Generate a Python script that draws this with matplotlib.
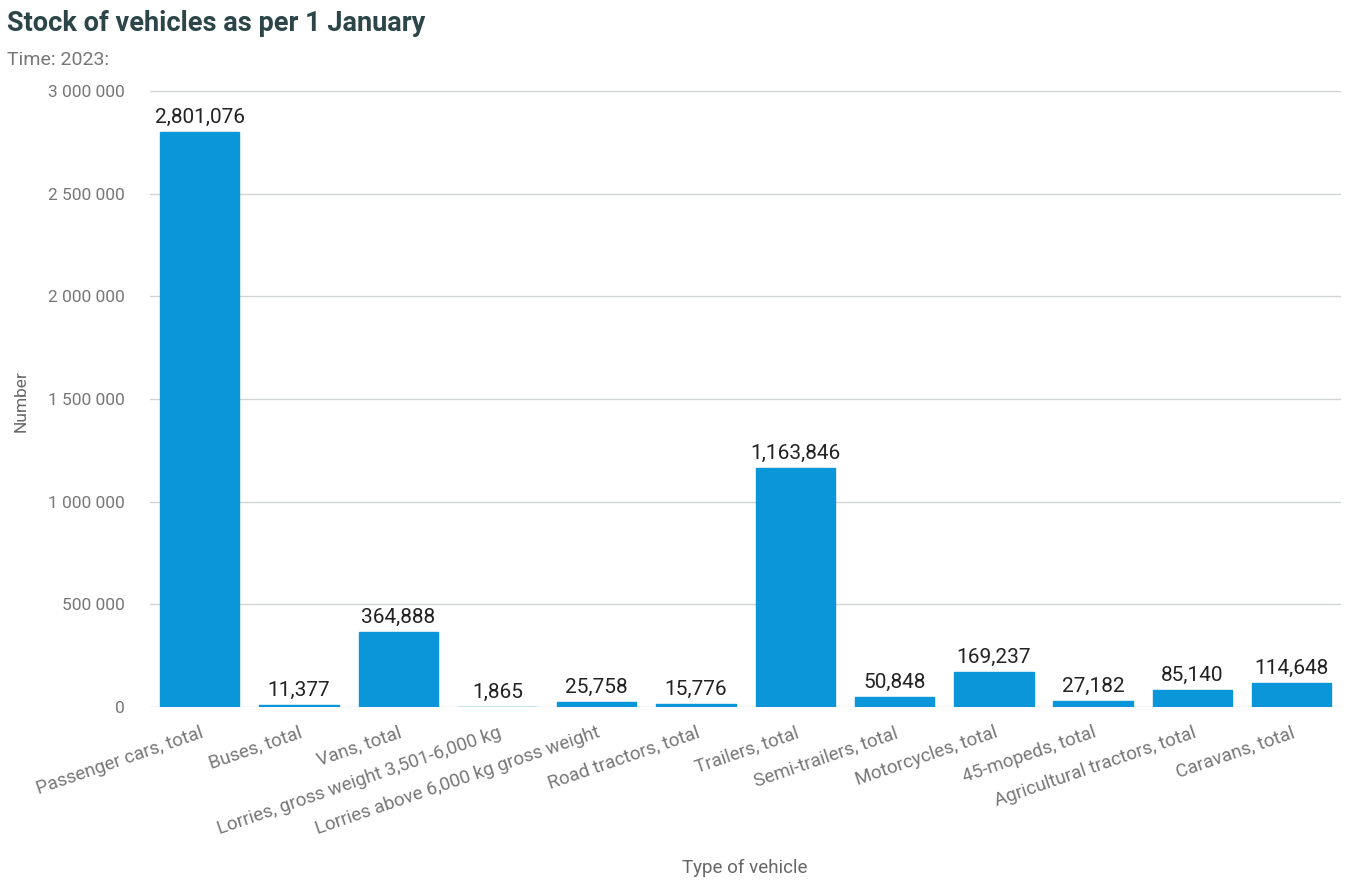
import matplotlib
matplotlib.use("Agg")
import matplotlib.pyplot as plt
from matplotlib.ticker import FuncFormatter

categories = ["Passenger cars, total", "Buses, total", "Vans, total",
              "Lorries, gross weight 3,501-6,000 kg",
              "Lorries above 6,000 kg gross weight", "Road tractors, total",
              "Trailers, total", "Semi-trailers, total", "Motorcycles, total",
              "45-mopeds, total", "Agricultural tractors, total", "Caravans, total"]
values = [2801076, 11377, 364888, 1865, 25758, 15776,
          1163846, 50848, 169237, 27182, 85140, 114648]
yticks = [0, 500000, 1000000, 1500000, 2000000, 2500000, 3000000]

plt.rcParams['font.family'] = ['Roboto', 'DejaVu Sans']

fig = plt.figure(figsize=(13.46, 8.81), dpi=100)
ax = fig.add_axes([0.1115, 0.1975, 0.885, 0.699])

x = list(range(len(categories)))
ax.bar(x, values, width=0.8, color='#0a96d9', edgecolor='#0a96d9', linewidth=1, zorder=3)
for xi, v in zip(x, values):
    ax.text(xi, v + 25000, f"{v:,}", ha='center', va='bottom', fontsize=15, color='#222222')

ax.set_xlim(-0.5, len(categories) - 0.5)
ax.set_ylim(0, 3000000)
ax.set_yticks(yticks)
ax.yaxis.set_major_formatter(FuncFormatter(lambda v, p: f"{int(v):,}".replace(",", " ")))
ax.grid(axis='y', color='#d0d4d4', linewidth=1, zorder=0)
for s in ax.spines.values():
    s.set_visible(False)
ax.tick_params(axis='y', length=0, labelsize=12.5, colors='#777777', pad=18)
ax.tick_params(axis='x', length=0, labelsize=13.5, colors='#777777', pad=12)
ax.set_xticks(x)
ax.set_xticklabels(categories, rotation=19, ha='right', rotation_mode='anchor')

fig.text(0.016, 0.545, "Number", rotation=90, ha='center', va='center', fontsize=12.5, color='#666666')
fig.text(0.553, 0.005, "Type of vehicle", ha='center', va='bottom', fontsize=13.5, color='#666666')
fig.text(0.005, 0.973, "Stock of vehicles as per 1 January", ha='left', va='center',
         fontsize=19.5, fontweight='bold', color='#2b4548')
fig.text(0.005, 0.932, "Time: 2023:", ha='left', va='center', fontsize=14, color='#777777')

fig.savefig("out.png", dpi=100)
